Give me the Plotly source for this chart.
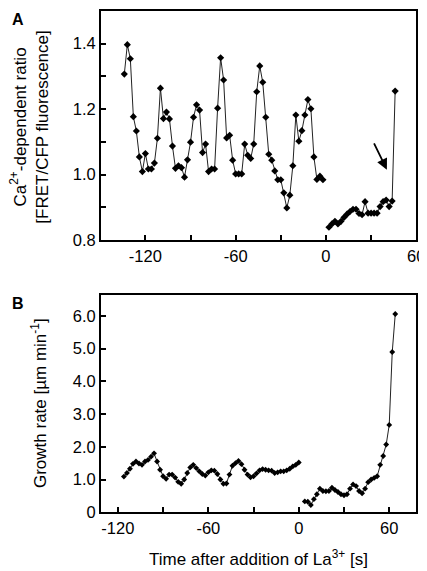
import plotly.graph_objects as go

# ---------------- data ----------------
# Panel A: Ca2+-dependent ratio (FRET/CFP)
ca_time_pre = list(range(-134, -1, 2))
ca_ratio_pre = [1.307, 1.397, 1.354, 1.177, 1.133, 1.054, 1.009, 1.064, 1.017, 1.017,
                1.035, 1.111, 1.264, 1.171, 1.191, 1.170, 1.087, 1.019, 1.027, 1.021,
                0.992, 1.045, 1.099, 1.175, 1.213, 1.197, 1.067, 1.093, 1.009, 1.017,
                1.017, 1.203, 1.357, 1.289, 1.112, 1.120, 1.044, 1.002, 1.002, 1.002,
                1.093, 1.059, 1.049, 1.093, 1.253, 1.332, 1.282, 1.175, 1.062, 1.044,
                1.011, 0.984, 0.984, 0.944, 0.898, 0.937, 1.027, 1.182, 1.102, 1.134,
                1.182, 1.229, 1.201, 1.054, 0.985, 0.995, 0.984]
ca_time_post = list(range(2, 45, 2)) + [46]
ca_ratio_post = [0.839, 0.849, 0.857, 0.849, 0.857, 0.869, 0.879, 0.887, 0.894, 0.894,
                 0.881, 0.877, 0.917, 0.882, 0.882, 0.882, 0.882, 0.902, 0.917, 0.922,
                 0.902, 0.919, 1.255]

# Panel B: growth rate (um/min)
gr_time_pre = list(range(-116, 1, 2))
gr_rate_pre = [1.09, 1.20, 1.33, 1.48, 1.55, 1.49, 1.45, 1.55, 1.60, 1.70,
               1.80, 1.55, 1.30, 1.10, 1.02, 1.15, 1.15, 1.06, 0.93, 0.87,
               1.00, 1.20, 1.37, 1.45, 1.35, 1.25, 1.17, 1.12, 1.22, 1.28,
               1.27, 1.17, 1.00, 0.87, 0.88, 1.15, 1.42, 1.50, 1.57, 1.47,
               1.30, 1.15, 1.07, 1.10, 1.19, 1.28, 1.32, 1.30, 1.28, 1.27,
               1.20, 1.22, 1.25, 1.25, 1.28, 1.33, 1.40, 1.45, 1.52]
gr_time_post = list(range(4, 65, 2))
gr_rate_post = [0.33, 0.32, 0.22, 0.40, 0.55, 0.72, 0.65, 0.64, 0.65, 0.75,
                0.68, 0.62, 0.55, 0.52, 0.55, 0.72, 0.85, 0.80, 0.65, 0.58,
                0.72, 0.92, 1.00, 1.05, 1.10, 1.45, 1.72, 2.07, 2.67, 4.90, 6.06]

x_ticks = [-120, -60, 0, 60]
x_labels = ["-120", "-60", "0", "60"]
ya_ticks = [0.8, 1.0, 1.2, 1.4]
ya_labels = ["0.8", "1.0", "1.2", "1.4"]
yb_ticks = [0, 1, 2, 3, 4, 5, 6]
yb_labels = ["0", "1.0", "2.0", "3.0", "4.0", "5.0", "6.0"]

# ---------------- figure ----------------
W, H = 427, 571
FONT = "Liberation Sans, Arial, sans-serif"
FS = 16.5
FT = 17

fig = go.Figure()
line_style = dict(color="#222222", width=1)

fig.add_trace(go.Scatter(x=ca_time_pre, y=ca_ratio_pre, mode="lines+markers",
                         line=line_style, marker=dict(symbol="diamond", size=5.5, color="black"),
                         xaxis="x", yaxis="y", showlegend=False))
fig.add_trace(go.Scatter(x=ca_time_post, y=ca_ratio_post, mode="lines+markers",
                         line=line_style, marker=dict(symbol="diamond", size=5.5, color="black"),
                         xaxis="x", yaxis="y", showlegend=False))
fig.add_trace(go.Scatter(x=gr_time_pre, y=gr_rate_pre, mode="lines+markers",
                         line=line_style, marker=dict(symbol="diamond", size=4.5, color="black"),
                         xaxis="x2", yaxis="y2", showlegend=False))
fig.add_trace(go.Scatter(x=gr_time_post, y=gr_rate_post, mode="lines+markers",
                         line=line_style, marker=dict(symbol="diamond", size=4.5, color="black"),
                         xaxis="x2", yaxis="y2", showlegend=False))

def px_x(p):
    return p / W

def px_y(p):
    return 1 - p / H

axis_common = dict(showline=True, linecolor="black", linewidth=2, mirror=True,
                   ticks="inside", ticklen=5, tickwidth=2, tickcolor="black",
                   showgrid=False, zeroline=False, ticklabeloverflow="allow",
                   tickfont=dict(family=FONT, size=FS, color="black"))

minor_x = dict(dtick=30, tick0=0, ticks="inside", ticklen=5, tickwidth=2, tickcolor="black")
xdom = [px_x(95), px_x(417)]

fig.update_layout(
    width=W, height=H,
    margin=dict(l=0, r=0, t=0, b=0),
    paper_bgcolor="white", plot_bgcolor="white",
    font=dict(family=FONT, size=FS, color="black"),
    xaxis=dict(domain=xdom, anchor="y", range=[-149.5, 60],
               tickmode="array", tickvals=x_ticks, ticktext=x_labels,
               minor=minor_x, **axis_common),
    yaxis=dict(domain=[px_y(235.7), px_y(3)], anchor="x", range=[0.8, 1.5],
               tickmode="array", tickvals=ya_ticks, ticktext=ya_labels,
               minor=dict(dtick=0.1, tick0=0.8, ticks="inside", ticklen=5, tickwidth=2, tickcolor="black"),
               **axis_common),
    xaxis2=dict(domain=xdom, anchor="y2", range=[-131.2, 77.9],
                tickmode="array", tickvals=x_ticks, ticktext=x_labels,
                minor=minor_x, **axis_common),
    yaxis2=dict(domain=[px_y(512.3), px_y(292)], anchor="x2", range=[0, 6.63],
                tickmode="array", tickvals=yb_ticks, ticktext=yb_labels,
                **axis_common),
)

annots = [
    dict(text="<b>A</b>", x=px_x(2), y=px_y(1), xanchor="left", yanchor="top", font=dict(size=16)),
    dict(text="<b>B</b>", x=px_x(2), y=px_y(290), xanchor="left", yanchor="top", font=dict(size=16)),
    dict(text="Ca<sup>2+</sup>-dependent ratio<br>[FRET/CFP fluorescence]",
         x=px_x(22), y=px_y(121), xanchor="center", yanchor="middle", textangle=-90,
         font=dict(size=FT)),
    dict(text="Growth rate [µm min<sup>-1</sup>]",
         x=px_x(31), y=px_y(401), xanchor="center", yanchor="middle", textangle=-90,
         font=dict(size=FT)),
    dict(text="Time after addition of La<sup>3+</sup> [s]",
         x=px_x(256), y=px_y(559), xanchor="center", yanchor="middle",
         font=dict(size=FT)),
]
for a in annots:
    a.update(xref="paper", yref="paper", showarrow=False)
    fig.add_annotation(**a)

# arrow pointing at La3+ response in panel A
arrow_tail = (31.5, 1.10)
arrow_head = (40.5, 1.015)
fig.add_annotation(x=arrow_head[0], y=arrow_head[1], ax=arrow_tail[0], ay=arrow_tail[1],
                   xref="x", yref="y", axref="x", ayref="y", text="",
                   showarrow=True, arrowhead=2, arrowsize=1.2, arrowwidth=1.8, arrowcolor="black")

fig.write_html("out.html")
